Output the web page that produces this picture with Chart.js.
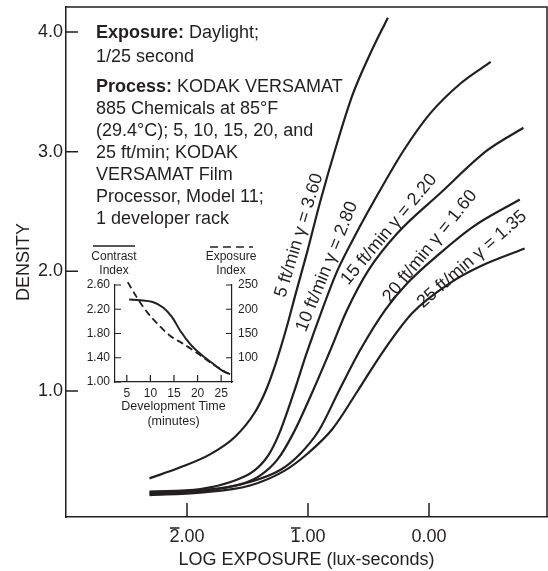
<!DOCTYPE html>
<html>
<head>
<meta charset="utf-8">
<script src="https://cdn.jsdelivr.net/npm/chart.js@4.4.1/dist/chart.umd.min.js"></script>
<style>
  html, body { margin: 0; padding: 0; background: #fff; }
  #wrap { position: relative; width: 548px; height: 571px; }
  #main { position: absolute; left: 0; top: 0; }
  #inset { position: absolute; left: 80px; top: 236px; }
</style>
</head>
<body>
<div id="wrap">
  <canvas id="main" width="548" height="571"></canvas>
  <canvas id="inset" width="185" height="195"></canvas>
</div>
<script>
// ---- data ----
const speeds = ['5 ft/min', '10 ft/min', '15 ft/min', '20 ft/min', '25 ft/min'];
const gammas = ['3.60', '2.80', '2.20', '1.60', '1.35'];

const logE5  = [-2.31, -2.06, -1.81, -1.60, -1.44, -1.35, -1.27, -1.18, -1.10, -1.01, -0.90, -0.76, -0.63, -0.49, -0.34];
const dens5  = [0.27, 0.36, 0.47, 0.62, 0.82, 1.00, 1.22, 1.52, 1.82, 2.15, 2.58, 3.07, 3.48, 3.81, 4.12];
const logE10 = [-2.31, -1.89, -1.64, -1.45, -1.33, -1.24, -1.12, -1.01, -0.89, -0.76, -0.60, -0.42, -0.21, 0.01, 0.26, 0.51];
const dens10 = [0.16, 0.18, 0.24, 0.33, 0.46, 0.64, 0.98, 1.32, 1.66, 2.00, 2.32, 2.65, 3.01, 3.32, 3.57, 3.75];
const logE15 = [-2.31, -1.89, -1.56, -1.40, -1.25, -1.12, -0.96, -0.82, -0.68, -0.50, -0.26, 0.09, 0.48, 0.78];
const dens15 = [0.15, 0.17, 0.22, 0.29, 0.43, 0.65, 1.00, 1.33, 1.67, 2.01, 2.32, 2.65, 3.01, 3.20];
const logE20 = [-2.31, -1.89, -1.48, -1.23, -1.07, -0.91, -0.74, -0.57, -0.36, -0.18, 0.09, 0.36, 0.75];
const dens20 = [0.14, 0.16, 0.24, 0.34, 0.47, 0.67, 1.01, 1.34, 1.68, 1.90, 2.15, 2.37, 2.60];
const logE25 = [-2.31, -1.89, -1.48, -1.20, -1.00, -0.80, -0.59, -0.38, -0.14, 0.17, 0.42, 0.79];
const dens25 = [0.13, 0.15, 0.21, 0.33, 0.48, 0.68, 1.00, 1.33, 1.65, 1.90, 2.04, 2.19];

const logE = [logE5, logE10, logE15, logE20, logE25];
const density = [dens5, dens10, dens15, dens20, dens25];

const exposureTicks = [-2, -1, 0];
const exposureLabels = ['2.00', '1.00', '0.00'];
const negativeCharacteristic = [true, true, false];   // bar over the first digit
const densityTicks = [1, 2, 3, 4];

// inset
const ciTime  = [5.5, 7.8, 10.5, 12.7, 14.6, 16.3, 18.4, 20.5, 23.3, 25.4, 26.9];
const ciValue = [2.36, 2.35, 2.32, 2.23, 2.07, 1.85, 1.63, 1.47, 1.30, 1.18, 1.13];
const eiTime  = [5.2, 7.1, 9.3, 11.4, 14.1, 16.9, 19.9, 22.7, 24.8, 26.5];
const eiValue = [256, 225, 194, 171, 146, 129, 110, 90, 77, 67];
const timeTicks = [5, 10, 15, 20, 25];
const ciTicks = [1.0, 1.4, 1.8, 2.2, 2.6];
const eiTicks = [100, 150, 200, 250];

const INK = '#231f20';
const FONT = "'Liberation Sans', Arial, Helvetica, sans-serif";

// where the rotated curve labels sit (data units) and their angle in degrees
const curveLabelSpots = [
  { x: -1.074, y: 2.30, angle: -73 },
  { x: -0.843, y: 2.04, angle: -68 },
  { x: -0.330, y: 2.35, angle: -50 },
  { x: 0.008,  y: 2.21, angle: -51 },
  { x: 0.355,  y: 2.10, angle: -41 }
];

const noteLines = [
  ['Exposure:', ' Daylight;', 33],
  ['', '1/25 second', 57],
  ['Process:', ' KODAK VERSAMAT', 87],
  ['', '885 Chemicals at 85\u00b0F', 109],
  ['', '(29.4\u00b0C); 5, 10, 15, 20, and', 131],
  ['', '25 ft/min; KODAK', 153],
  ['', 'VERSAMAT Film', 175],
  ['', 'Processor, Model 11;', 197],
  ['', '1 developer rack', 219]
];

// keep the plot box where the figure has it (no room reserved for end labels)
function noEndPadding(s) {
  s.paddingTop = 0;
  s.paddingBottom = 0;
  s.paddingLeft = 0;
  s.paddingRight = 0;
}

const mainDecor = {
  id: 'mainDecor',
  afterDraw(chart) {
    const { ctx, chartArea: a, scales } = chart;
    ctx.save();
    ctx.strokeStyle = INK;
    ctx.lineWidth = 1.5;
    // top and right edges of the frame
    ctx.beginPath();
    ctx.moveTo(a.left, a.top);
    ctx.lineTo(a.right, a.top);
    ctx.lineTo(a.right, a.bottom);
    ctx.stroke();
    // ticks pointing into the plot
    ctx.beginPath();
    scales.x.ticks.forEach(t => {
      const px = scales.x.getPixelForValue(t.value);
      ctx.moveTo(px, a.bottom);
      ctx.lineTo(px, a.bottom - 14);
    });
    scales.y.ticks.forEach(t => {
      const py = scales.y.getPixelForValue(t.value);
      ctx.moveTo(a.left, py);
      ctx.lineTo(a.left + 12, py);
    });
    ctx.stroke();

    ctx.fillStyle = INK;
    ctx.textBaseline = 'middle';
    ctx.font = '18px ' + FONT;

    // bar over the characteristic of negative logs (2-bar, 1-bar)
    ctx.lineWidth = 1.3;
    ctx.beginPath();
    exposureTicks.forEach((v, i) => {
      if (!negativeCharacteristic[i]) return;
      const w = ctx.measureText(exposureLabels[i]).width;
      const c = ctx.measureText(exposureLabels[i][0]).width;
      const left = scales.x.getPixelForValue(v) - w / 2;
      ctx.moveTo(left + 0.5, a.bottom + 11);
      ctx.lineTo(left + c, a.bottom + 11);
    });
    ctx.stroke();

    // exposure / process note
    noteLines.forEach(([bold, rest, y]) => {
      let x = 96;
      if (bold) {
        ctx.font = 'bold 18px ' + FONT;
        ctx.fillText(bold, x, y);
        x += ctx.measureText(bold).width;
      }
      ctx.font = '18px ' + FONT;
      ctx.fillText(rest, x, y);
    });

    // curve labels
    ctx.textAlign = 'center';
    ctx.font = '18px ' + FONT;
    curveLabelSpots.forEach((s, i) => {
      ctx.save();
      ctx.translate(scales.x.getPixelForValue(s.x), scales.y.getPixelForValue(s.y));
      ctx.rotate(s.angle * Math.PI / 180);
      ctx.fillText(speeds[i] + ' \u03b3 = ' + gammas[i], 0, 0);
      ctx.restore();
    });
    ctx.restore();
  }
};

new Chart(document.getElementById('main'), {
  type: 'line',
  data: {
    datasets: speeds.map((s, i) => ({
      label: s,
      data: logE[i].map((x, j) => ({ x: x, y: density[i][j] })),
      borderColor: INK,
      borderWidth: 2.2,
      pointRadius: 0,
      fill: false,
      cubicInterpolationMode: 'monotone'
    }))
  },
  options: {
    responsive: false,
    animation: false,
    layout: { padding: { top: 7, right: 1, left: 0, bottom: 0 } },
    plugins: { legend: { display: false }, tooltip: { enabled: false } },
    scales: {
      x: {
        type: 'linear',
        min: -3.0,
        max: 0.975,
        afterFit: s => { s.height = 54; noEndPadding(s); },
        afterBuildTicks: s => { s.ticks = exposureTicks.map(v => ({ value: v })); },
        grid: { drawOnChartArea: false, drawTicks: false },
        border: { display: true, color: INK, width: 1.5 },
        ticks: {
          padding: 9,
          color: INK,
          font: { family: FONT, size: 18 },
          callback: (v, i) => exposureLabels[i]
        },
        title: {
          display: true,
          text: 'LOG EXPOSURE (lux-seconds)',
          color: INK,
          font: { family: FONT, size: 18 },
          padding: { top: 0, bottom: 0 }
        }
      },
      y: {
        min: -0.053,
        max: 4.209,
        afterFit: s => { s.width = 66; noEndPadding(s); },
        afterBuildTicks: s => { s.ticks = densityTicks.map(v => ({ value: v })); },
        grid: { drawOnChartArea: false, drawTicks: false },
        border: { display: true, color: INK, width: 1.5 },
        ticks: {
          padding: 3,
          color: INK,
          font: { family: FONT, size: 18 },
          callback: v => v.toFixed(1)
        },
        title: {
          display: true,
          text: 'DENSITY',
          color: INK,
          font: { family: FONT, size: 18 },
          padding: { top: 13, bottom: 0 }
        }
      }
    }
  },
  plugins: [mainDecor]
});

// ---- inset: contrast index and exposure index vs development time ----
const insetDecor = {
  id: 'insetDecor',
  afterDraw(chart) {
    const { ctx, chartArea: a, scales } = chart;
    ctx.save();
    ctx.strokeStyle = INK;
    ctx.lineWidth = 1.2;
    ctx.beginPath();
    scales.x.ticks.forEach(t => {
      const px = scales.x.getPixelForValue(t.value);
      ctx.moveTo(px, a.bottom);
      ctx.lineTo(px, a.bottom - 7);
    });
    scales.yc.ticks.forEach(t => {
      const py = scales.yc.getPixelForValue(t.value);
      ctx.moveTo(a.left, py);
      ctx.lineTo(a.left + 6, py);
    });
    scales.ye.ticks.forEach(t => {
      const py = scales.ye.getPixelForValue(t.value);
      ctx.moveTo(a.right, py);
      ctx.lineTo(a.right - 6, py);
    });
    ctx.stroke();

    // key lines above the axis names
    ctx.lineWidth = 1.5;
    ctx.beginPath();
    ctx.moveTo(13, 10);
    ctx.lineTo(55, 10);
    ctx.stroke();
    ctx.setLineDash([8, 5]);
    ctx.beginPath();
    ctx.moveTo(130, 11);
    ctx.lineTo(173, 11);
    ctx.stroke();
    ctx.setLineDash([]);

    ctx.fillStyle = INK;
    ctx.font = '12px ' + FONT;
    ctx.textAlign = 'center';
    ctx.textBaseline = 'middle';
    ctx.fillText('Contrast', 34, 21);
    ctx.fillText('Index', 34, 35);
    ctx.fillText('Exposure', 151, 21);
    ctx.fillText('Index', 151, 35);
    ctx.restore();
  }
};

new Chart(document.getElementById('inset'), {
  type: 'line',
  data: {
    datasets: [
      {
        label: 'Contrast Index',
        data: ciTime.map((t, i) => ({ x: t, y: ciValue[i] })),
        yAxisID: 'yc',
        borderColor: INK,
        borderWidth: 2,
        pointRadius: 0,
        cubicInterpolationMode: 'monotone',
        clip: false
      },
      {
        label: 'Exposure Index',
        data: eiTime.map((t, i) => ({ x: t, y: eiValue[i] })),
        yAxisID: 'ye',
        borderColor: INK,
        borderWidth: 1.8,
        borderDash: [7, 4],
        pointRadius: 0,
        cubicInterpolationMode: 'monotone',
        clip: false
      }
    ]
  },
  options: {
    responsive: false,
    animation: false,
    layout: { padding: { top: 49, left: 0, right: 0, bottom: 0 } },
    plugins: { legend: { display: false }, tooltip: { enabled: false } },
    scales: {
      x: {
        type: 'linear',
        min: 2.5,
        max: 27.3,
        afterFit: s => { s.height = 49; noEndPadding(s); },
        afterBuildTicks: s => { s.ticks = timeTicks.map(v => ({ value: v })); },
        grid: { drawOnChartArea: false, drawTicks: false },
        border: { display: true, color: INK, width: 1.2 },
        ticks: { padding: 4, color: INK, font: { family: FONT, size: 12 } },
        title: {
          display: true,
          text: ['Development Time', '(minutes)'],
          color: INK,
          font: { family: FONT, size: 12.5, lineHeight: 1.2 },
          padding: { top: 0, bottom: 1.5 }
        }
      },
      yc: {
        position: 'left',
        min: 1.0,
        max: 2.6,
        afterFit: s => { s.width = 35; noEndPadding(s); },
        afterBuildTicks: s => { s.ticks = ciTicks.map(v => ({ value: v })); },
        grid: { drawOnChartArea: false, drawTicks: false },
        border: { display: true, color: INK, width: 1.2 },
        ticks: { padding: 5, color: INK, font: { family: FONT, size: 12 }, callback: v => v.toFixed(2) }
      },
      ye: {
        position: 'right',
        min: 50,
        max: 250,
        afterFit: s => { s.width = 33; noEndPadding(s); },
        afterBuildTicks: s => { s.ticks = eiTicks.map(v => ({ value: v })); },
        grid: { drawOnChartArea: false, drawTicks: false },
        border: { display: true, color: INK, width: 1.2 },
        ticks: { padding: 6, color: INK, font: { family: FONT, size: 12 } }
      }
    }
  },
  plugins: [insetDecor]
});
</script>
</body>
</html>
